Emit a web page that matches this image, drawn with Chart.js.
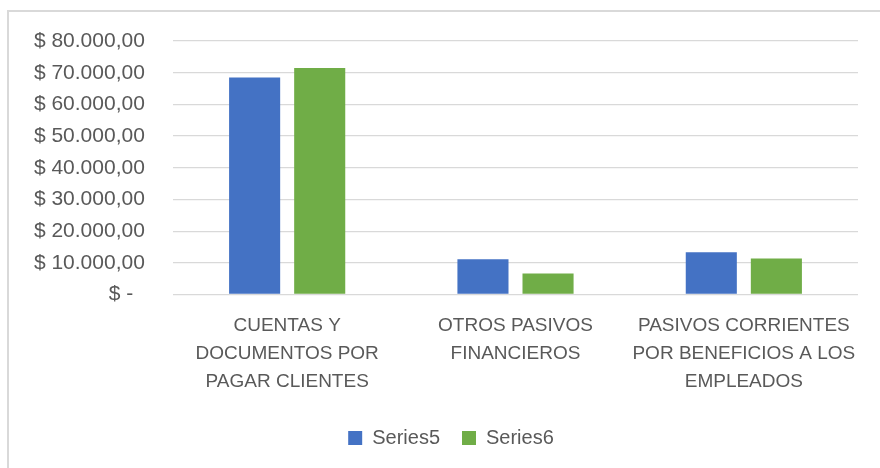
<!DOCTYPE html>
<html>
<head>
<meta charset="utf-8">
<script src="https://cdn.jsdelivr.net/npm/chart.js@4"></script>
<style>
  html, body { margin:0; padding:0; background:#ffffff; width:880px; height:468px; overflow:hidden; }
  #frame { position:absolute; left:7px; top:10px; width:900px; height:500px; border:2px solid #d9d9d9; box-sizing:border-box; }
  #wrap { position:absolute; left:9px; top:12px; width:871px; height:457px; }
</style>
</head>
<body>
<div id="frame"></div>
<div id="wrap"><canvas id="c"></canvas></div>
<script>
const categories = [
  ["CUENTAS Y", "DOCUMENTOS POR", "PAGAR CLIENTES"],
  ["OTROS PASIVOS", "FINANCIEROS"],
  ["PASIVOS CORRIENTES", "POR BENEFICIOS A LOS", "EMPLEADOS"]
];
const seriesNames = ["Series5", "Series6"];
const series5 = [68500, 11100, 13300];
const series6 = [71500, 6600, 11400];
const yMin = 0, yMax = 80000, yStep = 10000;

function fmt(v) {
  if (v === 0) return "$ -    ";
  const s = Math.round(v).toString().replace(/\B(?=(\d{3})+(?!\d))/g, ".");
  return "$ " + s + ",00  ";
}

const textColor = "#595959";
const gridColor = "#d9d9d9";
const fam = "'Liberation Sans', Arial, sans-serif";

new Chart(document.getElementById("c"), {
  type: "bar",
  data: {
    labels: categories,
    datasets: [
      { label: seriesNames[0], data: series5, backgroundColor: "#4472C4", yAxisID: "y" },
      { label: seriesNames[1], data: series6, backgroundColor: "#70AD47", yAxisID: "y" }
    ]
  },
  options: {
    responsive: true,
    maintainAspectRatio: false,
    animation: false,
    devicePixelRatio: 1,
    categoryPercentage: 0.57,
    barPercentage: 0.785,
    layout: { padding: { top: 28.3, right: 0, bottom: 11, left: 13 } },
    plugins: {
      tooltip: { enabled: false },
      legend: {
        position: "bottom",
        labels: {
          color: textColor,
          boxWidth: 14, boxHeight: 14,
          padding: 22,
          font: { family: fam, size: 20 }
        }
      }
    },
    scales: {
      x: {
        grid: { display: false, drawTicks: false },
        border: { display: false },
        ticks: {
          color: textColor,
          padding: 17.5,
          maxRotation: 0,
          autoSkip: false,
          font: { family: fam, size: 19, lineHeight: 1.4737 }
        },
        afterFit: (s) => { s.height = 111.5; }
      },
      y: {
        min: yMin, max: yMax,
        grid: { color: gridColor, lineWidth: 1.3, drawTicks: false },
        border: { display: false },
        ticks: {
          stepSize: yStep,
          color: textColor,
          padding: 16.5,
          font: { family: fam, size: 21 },
          callback: (v) => fmt(v)
        },
        afterFit: (s) => { s.width = 151; }
      },
      y2: {
        type: "linear",
        position: "right",
        display: true,
        min: yMin, max: yMax,
        grid: { display: false, drawTicks: false },
        border: { display: false },
        ticks: { display: false },
        afterFit: (s) => { s.width = 22; }
      }
    }
  }
});
</script>
</body>
</html>
